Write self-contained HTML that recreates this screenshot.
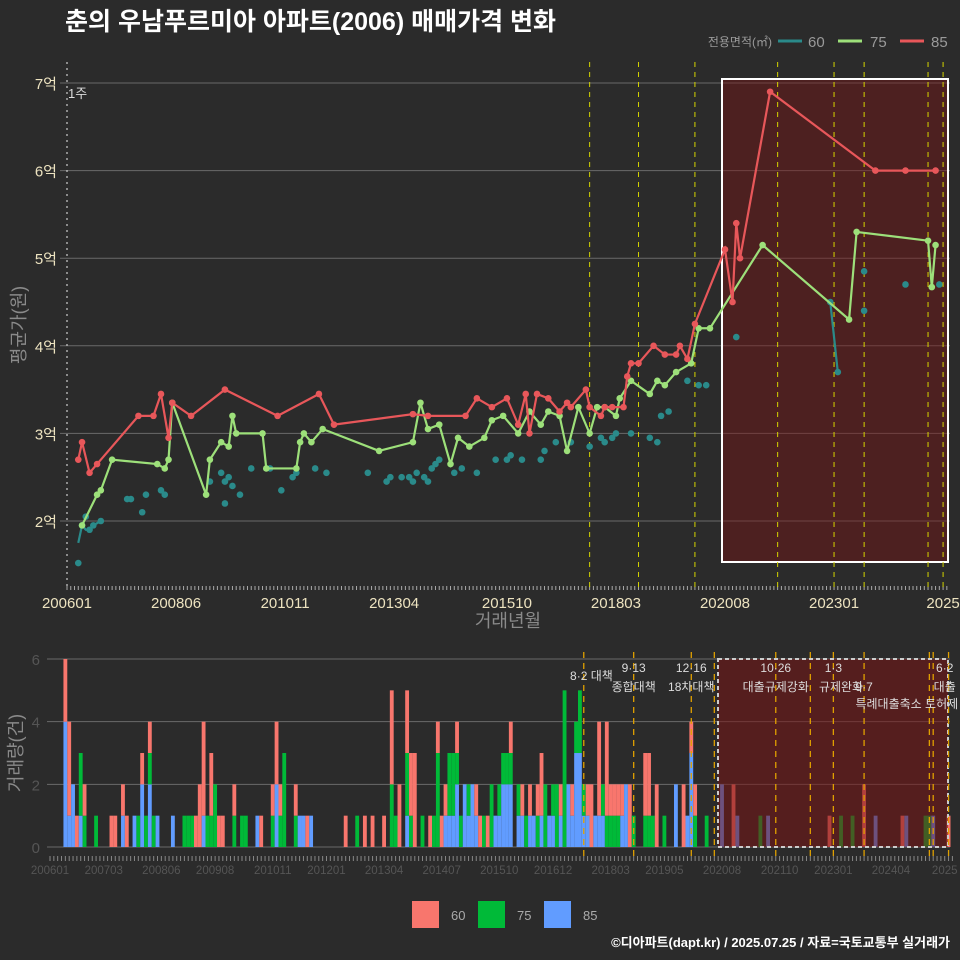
<!DOCTYPE html>
<html><head><meta charset="utf-8">
<style>
html,body{margin:0;padding:0;background:#2b2b2b;}
svg{display:block;font-family:"Liberation Sans","Noto Sans CJK KR",sans-serif;}
</style></head>
<body>
<svg id="chart" width="960" height="960" viewBox="0 0 960 960" xmlns="http://www.w3.org/2000/svg">
<rect width="960" height="960" fill="#2b2b2b"/>
<text x="65" y="30" fill="#ffffff" font-size="25" font-weight="bold">춘의 우남푸르미아 아파트(2006) 매매가격 변화</text>
<g>
<text x="772" y="46" fill="#9a9a9a" font-size="12" text-anchor="end">전용면적(㎡)</text>
<line x1="778" y1="41" x2="802" y2="41" stroke="#2a8a8a" stroke-width="3"/>
<text x="808" y="47" fill="#9a9a9a" font-size="15">60</text>
<line x1="838" y1="41" x2="862" y2="41" stroke="#9de07a" stroke-width="3"/>
<text x="870" y="47" fill="#9a9a9a" font-size="15">75</text>
<line x1="900" y1="41" x2="924" y2="41" stroke="#e8575a" stroke-width="3"/>
<text x="931" y="47" fill="#9a9a9a" font-size="15">85</text>
</g>
<g id="topPanel"></g>
<g id="botPanel"></g>
<g>
<rect x="412" y="901" width="27" height="27" fill="#F8766D"/>
<text x="451" y="920" fill="#aaa" font-size="13">60</text>
<rect x="478" y="901" width="27" height="27" fill="#00BA38"/>
<text x="517" y="920" fill="#aaa" font-size="13">75</text>
<rect x="544" y="901" width="27" height="27" fill="#619CFF"/>
<text x="583" y="920" fill="#aaa" font-size="13">85</text>
</g>
<text x="950" y="947" fill="#ffffff" font-size="13" font-weight="bold" text-anchor="end">©디아파트(dapt.kr) / 2025.07.25 / 자료=국토교통부 실거래가</text>
</svg>
<script>
// months since 2006-01
const red85Months = [3,4,6,8,19,23,25,27,28,33,42,56,67,71,92,96,106,109,113,117,120,122,123,125,128,131,133,134,138,139,142,143,145,148,149,150,152,156,159,162,163,165,167,175,177,178,179,187,215,223,231];
const red85Values = [2.7,2.9,2.55,2.65,3.2,3.2,3.45,2.95,3.35,3.2,3.5,3.2,3.45,3.1,3.22,3.2,3.2,3.4,3.3,3.4,3.1,3.45,3.0,3.45,3.4,3.25,3.35,3.3,3.5,3.3,3.2,3.3,3.3,3.3,3.65,3.8,3.8,4.0,3.9,3.9,4.0,3.85,4.25,5.1,4.5,5.4,5.0,6.9,6.0,6.0,6.0];
const green75Months = [4,8,9,12,24,26,27,28,37,38,41,43,44,45,52,53,61,62,63,65,68,83,92,94,96,99,102,104,107,111,113,116,120,123,126,128,131,133,136,139,141,143,146,147,150,155,157,159,162,166,168,171,185,208,210,229,230,231];
const green75Values = [1.95,2.3,2.35,2.7,2.65,2.6,2.7,3.35,2.3,2.7,2.9,2.85,3.2,3.0,3.0,2.6,2.6,2.9,3.0,2.9,3.05,2.8,2.9,3.35,3.05,3.1,2.65,2.95,2.85,2.95,3.15,3.2,3.0,3.25,3.1,3.25,3.2,2.8,3.3,3.0,3.3,3.3,3.2,3.4,3.6,3.45,3.6,3.55,3.7,3.8,4.2,4.2,5.15,4.3,5.3,5.2,4.67,5.15];
const teal60Points = [[3,1.52],[4,1.95],[5,2.05],[6,1.9],[7,1.95],[9,2.0],[16,2.25],[17,2.25],[20,2.1],[21,2.3],[25,2.35],[26,2.3],[38,2.45],[41,2.55],[42,2.2],[42,2.45],[43,2.5],[44,2.4],[46,2.3],[49,2.6],[54,2.6],[57,2.35],[60,2.5],[61,2.55],[66,2.6],[69,2.55],[80,2.55],[85,2.45],[86,2.5],[89,2.5],[91,2.5],[92,2.45],[93,2.55],[95,2.5],[96,2.45],[97,2.6],[98,2.65],[99,2.7],[103,2.55],[105,2.6],[109,2.55],[114,2.7],[117,2.7],[118,2.75],[121,2.7],[126,2.7],[127,2.8],[130,2.9],[134,2.9],[139,2.85],[142,2.95],[143,2.9],[145,2.95],[146,3.0],[150,3.0],[155,2.95],[157,2.9],[158,3.2],[160,3.25],[165,3.6],[168,3.55],[170,3.55],[178,4.1],[203,4.5],[205,3.7],[212,4.85],[212,4.4],[223,4.7],[232,4.7]];
const teal60LineA = [[3,1.75],[4,1.95],[5,1.9],[6,1.9],[7,1.95],[9,2.0]];
const teal60LineB = [[203,4.5],[205,3.7]];
const yTicks = [2,3,4,5,6,7];
const yTickLabels = ["2억","3억","4억","5억","6억","7억"];
const xTickMonths = [0,29,58,87,117,146,175,204,233];
const xTickLabels = ["200601","200806","201011","201304","201510","201803","202008","202301","2025"];
const policyMonthsTop = [139,152,167,189,204,212,229,233];
// volume rows: [month, vol60, vol75, vol85]
const barRows = [[4,2,0,4],[5,3,0,1],[6,0,0,2],[7,1,0,0],[8,0,2,1],[9,1,1,0],[12,0,1,0],[16,1,0,0],[17,1,0,0],[19,1,0,1],[20,1,0,0],[22,0,0,1],[23,0,1,0],[24,1,0,2],[25,0,1,0],[26,1,1,2],[27,0,1,0],[28,0,0,1],[32,0,0,1],[35,0,1,0],[36,0,1,0],[37,0,1,0],[38,1,0,0],[39,2,0,0],[40,3,0,1],[41,0,1,0],[42,2,1,0],[43,0,2,0],[44,1,0,0],[45,1,0,0],[48,1,1,0],[50,0,1,0],[51,0,1,0],[54,0,0,1],[55,1,0,0],[58,1,1,0],[59,2,0,2],[60,1,1,0],[61,0,3,0],[64,1,1,0],[65,0,0,1],[66,0,0,1],[67,1,0,0],[68,0,0,1],[77,1,0,0],[80,0,1,0],[82,1,0,0],[84,1,0,0],[87,1,0,0],[89,3,2,0],[90,0,1,0],[91,2,0,0],[93,2,2,1],[94,2,1,0],[95,3,0,0],[97,0,1,0],[99,1,0,0],[100,0,1,0],[101,1,3,0],[102,1,0,0],[103,1,0,1],[104,0,2,1],[105,0,2,1],[106,1,1,2],[107,0,1,0],[108,0,0,2],[109,0,1,1],[110,0,0,2],[111,1,0,1],[112,1,0,0],[113,0,1,0],[114,1,0,0],[115,0,2,0],[116,0,0,1],[117,0,1,1],[118,0,1,2],[119,0,1,2],[120,1,1,2],[122,0,1,1],[123,1,0,1],[124,0,1,0],[125,1,0,1],[126,0,0,1],[127,1,1,0],[128,2,0,1],[129,0,2,0],[130,0,0,1],[131,0,1,1],[132,0,2,0],[133,1,0,1],[134,0,5,0],[135,0,0,2],[136,1,0,1],[137,0,1,3],[138,0,2,3],[139,0,1,1],[140,1,0,1],[141,2,0,0],[142,0,0,1],[143,3,0,1],[144,0,1,1],[145,3,1,0],[146,1,1,0],[147,1,1,0],[148,1,1,0],[149,1,0,1],[150,0,0,2],[151,2,0,0],[152,0,1,0],[155,2,1,0],[156,2,1,0],[157,0,1,0],[158,2,0,0],[160,0,1,0],[163,0,0,2],[165,2,0,0],[166,0,0,1],[167,1,0,3],[168,1,1,0],[171,0,1,0],[175,0,0,2],[178,2,0,0],[179,0,0,1],[185,0,1,0],[187,0,0,1],[203,1,0,0],[206,0,1,0],[209,0,1,0],[212,2,0,0],[215,0,0,1],[222,1,0,0],[223,0,0,1],[228,0,1,0],[229,0,1,0],[230,0,0,1],[234,1,0,0]];
const barMonths = barRows.map(r => r[0]);
const vol60 = barRows.map(r => r[1]);
const vol75 = barRows.map(r => r[2]);
const vol85 = barRows.map(r => r[3]);
const volTicks = [0,2,4,6];
const botTickMonths = [0,14,29,43,58,72,87,102,117,131,146,160,175,190,204,219,233];
const botTickLabels = ["200601","200703","200806","200908","201011","201201","201304","201407","201510","201612","201803","201905","202008","202110","202301","202404","2025"];
const policyMonthsBot = [139,152,167,173,189,198,204,212,229,230,234];
const policyTexts = [[141,680,"8·2 대책"],[152,672,"9·13"],[152,691,"종합대책"],[167,672,"12·16"],[167,691,"18차대책"],[189,672,"10·26"],[189,691,"대출규제강화"],[204,672,"1·3"],[206,691,"규제완화"],[212,691,"9·7"],[225,708,"특례대출축소 토허제 해"],[233,672,"6·2"],[233,691,"대출"]];

const NS = "http://www.w3.org/2000/svg";
function mk(parent, tag, attrs, text){ const e=document.createElementNS(NS,tag); for(const k in attrs) e.setAttribute(k,attrs[k]); if(text!==undefined) e.textContent=text; parent.appendChild(e); return e; }
const topG = document.getElementById('topPanel');
const botG = document.getElementById('botPanel');
const xT = m => 67 + m*3.76;
const yT = v => 521 - (v-2)*87.6;
const xB = m => 50 + m*3.84;
const yB = v => 847 - v*31.33;

yTicks.forEach((t,i)=>{
  const g = mk(topG,'line',{x1:60,x2:950,y1:yT(t),y2:yT(t),stroke:'#6a6a6a','stroke-width':1});
  
  
  const l = mk(topG,'text',{x:57,y:yT(t)+6,fill:'#ede3c0','font-size':15,'text-anchor':'end'},yTickLabels[i]);
  
  
});
for(let m=0;m<=234;m++){
  const t = mk(topG,'line',{x1:xT(m),x2:xT(m),y1:586,y2:590,stroke:'#aaa','stroke-width':1});
  
  
}
xTickMonths.forEach((m,i)=>{
  const l = mk(topG,'text',{x:xT(m),y:608,fill:'#ede3c0','font-size':15,'text-anchor':'middle'},xTickLabels[i]);
  
  
});
let a = mk(topG,'text',{x:508,y:627,fill:'#8a8a8a','font-size':18,'text-anchor':'middle'},'거래년월');


a = mk(topG,'text',{x:25,y:325,fill:'#8a8a8a','font-size':18,'text-anchor':'middle',transform:'rotate(-90 25 325)'},'평균가(원)');


a = mk(topG,'line',{x1:67,x2:67,y1:62,y2:590,stroke:'#cccccc','stroke-dasharray':'2,4','stroke-width':1.2});


a = mk(topG,'text',{x:68,y:98,fill:'#ddd','font-size':13},'1주');


a = mk(topG,'rect',{x:722,y:79,width:226,height:483,fill:'rgba(120,20,20,0.45)',stroke:'#ffffff','stroke-width':2});


policyMonthsTop.forEach(m=>{
  const l = mk(topG,'line',{x1:xT(m),x2:xT(m),y1:62,y2:590,stroke:'#d4d400','stroke-dasharray':'5,5','stroke-width':1});
  
  
});
function series(months, vals, color, name){
  const pts = months.map((m,i)=>xT(m)+','+yT(vals[i])).join(' ');
  const pl = mk(topG,'polyline',{points:pts,fill:'none',stroke:color,'stroke-width':2.2});
  
  
  months.forEach((m,i)=>{
    const c = mk(topG,'circle',{cx:xT(m),cy:yT(vals[i]),r:3.3,fill:color});
    
    
  });
}
[teal60LineA, teal60LineB].forEach(seg=>{
  const pl = mk(topG,'polyline',{points:seg.map(p=>xT(p[0])+','+yT(p[1])).join(' '),fill:'none',stroke:'#2a8a8a','stroke-width':2.2});
  
  
});
teal60Points.forEach(p=>{
  const c = mk(topG,'circle',{cx:xT(p[0]),cy:yT(p[1]),r:3.3,fill:'#2a8a8a'});
  
  
});
series(green75Months, green75Values, '#9de07a', 'series-75');
series(red85Months, red85Values, '#e8575a', 'series-85');

volTicks.forEach(t=>{
  const g = mk(botG,'line',{x1:47,x2:950,y1:yB(t),y2:yB(t),stroke:'#6a6a6a','stroke-width':1});
  
  
  const l = mk(botG,'text',{x:40,y:yB(t)+6,fill:'#555','font-size':15,'text-anchor':'end'},String(t));
  
  
});
a = mk(botG,'text',{x:22,y:753,fill:'#8a8a8a','font-size':18,'text-anchor':'middle',transform:'rotate(-90 22 753)'},'거래량(건)');


const bw = 3.84;
barMonths.forEach((m,i)=>{
  let base = 0;
  [[vol85[i],'#619CFF'],[vol75[i],'#00BA38'],[vol60[i],'#F8766D']].forEach(([v,col])=>{
    if(v>0){
      const r = mk(botG,'rect',{x:xB(m)-bw/2,y:yB(base+v),width:bw,height:yB(base)-yB(base+v),fill:col});
      
      
      base += v;
    }
  });
});
a = mk(botG,'rect',{x:718,y:659,width:230,height:188,fill:'rgba(120,20,20,0.55)',stroke:'#cccccc','stroke-width':2,'stroke-dasharray':'4,3'});


policyMonthsBot.forEach(m=>{
  const l = mk(botG,'line',{x1:xB(m),x2:xB(m),y1:652,y2:858,stroke:'#e0a000','stroke-dasharray':'6,5','stroke-width':1.3});
  
  
});
policyTexts.forEach(p=>{
  const l = mk(botG,'text',{x:xB(p[0]),y:p[1],fill:'#dddddd','font-size':12,'text-anchor':'middle'},p[2]);
  
  
});
for(let m=0;m<=235;m++){
  const t = mk(botG,'line',{x1:xB(m),x2:xB(m),y1:856,y2:861,stroke:'#888','stroke-width':1});
  
  
}
botTickMonths.forEach((m,i)=>{
  const l = mk(botG,'text',{x:xB(m),y:874,fill:'#555','font-size':11.5,'text-anchor':'middle'},botTickLabels[i]);
  
  
});
</script>
</body></html>
